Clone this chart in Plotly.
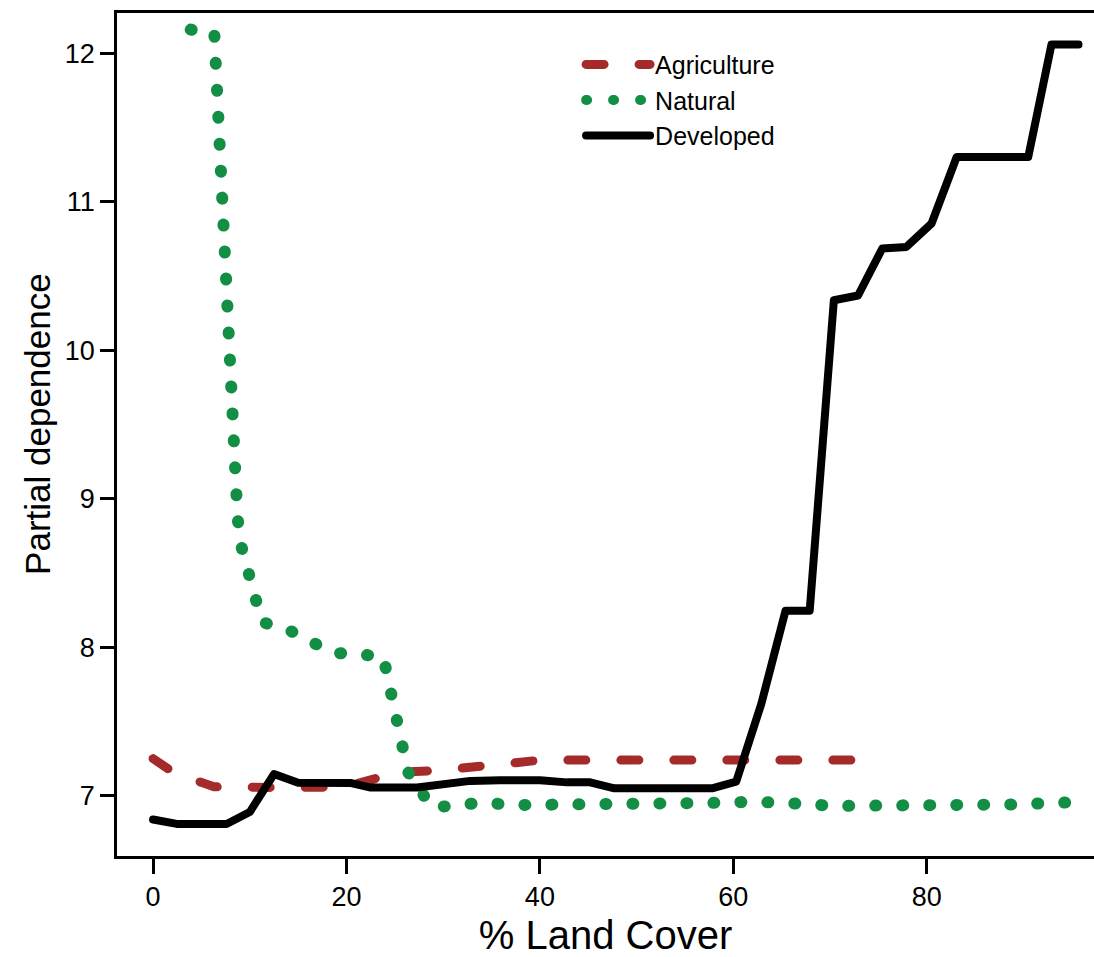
import plotly.graph_objects as go

# ---- data ----
developed_x = [0, 2.45, 7.6, 10.0, 12.5, 15.0, 20.5, 22.4, 27.3, 30.0, 32.8, 35.9, 40.0,
               42.8, 45.2, 47.7, 57.8, 60.3, 62.9, 65.4, 67.9, 70.4, 72.9, 75.4, 77.9,
               80.5, 83.1, 90.5, 92.9, 95.7]
developed_y = [6.84, 6.81, 6.81, 6.89, 7.146, 7.088, 7.085, 7.056, 7.056, 7.075, 7.10,
               7.105, 7.105, 7.09, 7.09, 7.05, 7.05, 7.095, 7.62, 8.246, 8.246, 10.338,
               10.37, 10.686, 10.697, 10.855, 11.303, 11.303, 12.06, 12.06]

agri_x = [0, 2.5, 5.0, 6.3, 12.4, 18.0, 21.0, 23.5, 25.5, 29.0, 32.0, 34.5, 37.5, 40.0,
          47.0, 52.0, 56.0, 73.5]
agri_y = [7.25, 7.14, 7.09, 7.06, 7.056, 7.058, 7.08, 7.125, 7.16, 7.168, 7.184, 7.195,
          7.222, 7.24, 7.245, 7.245, 7.24, 7.24]

natural_x = [3.89, 6.33, 8.73, 9.09, 11.26, 13.64, 16.0, 18.4, 21.1, 23.8, 26.36, 28.84,
             31.56, 34.2, 36.98, 48.1, 50.9, 53.7, 56.5, 59.2, 62.0, 64.8, 67.6, 70.3,
             73.1, 75.9, 78.7, 81.5, 84.3, 87.1, 89.8, 92.6, 95.4]
natural_y = [12.161, 12.141, 8.877, 8.69, 8.169, 8.129, 8.052, 7.964, 7.954, 7.937, 7.16,
             6.92, 6.937, 6.955, 6.937, 6.937, 6.942, 6.942, 6.949, 6.953, 6.96, 6.96,
             6.944, 6.931, 6.931, 6.927, 6.927, 6.927, 6.927, 6.934, 6.942, 6.951, 6.956]

x_ticks = [0, 20, 40, 60, 80]
y_ticks = [7, 8, 9, 10, 11, 12]

FONT = "Liberation Sans, Arial, Helvetica, sans-serif"

fig = go.Figure()
fig.add_trace(go.Scatter(x=agri_x, y=agri_y, mode="lines", name="Agriculture",
                         line=dict(color="#A52A2A", width=9, dash="18px,35px")))
fig.add_trace(go.Scatter(x=natural_x, y=natural_y, mode="lines", name="Natural",
                         line=dict(color="#128F45", width=12, dash="1px,26px")))
fig.add_trace(go.Scatter(x=developed_x, y=developed_y, mode="lines", name="Developed",
                         line=dict(color="#000000", width=8)))

fig.update_layout(
    width=1094, height=957,
    margin=dict(l=117, r=0, t=13, b=101, pad=0),
    paper_bgcolor="white", plot_bgcolor="white",
    font=dict(family=FONT, color="black"),
    showlegend=True,
    legend=dict(x=0.475, y=0.966, xanchor="left", yanchor="top",
                font=dict(size=25, family=FONT, color="black"),
                bgcolor="rgba(0,0,0,0)", itemwidth=64, tracegroupgap=0),
    xaxis=dict(range=[-3.73, 97.3], tickvals=x_ticks, ticktext=[str(v) for v in x_ticks],
               showgrid=False, zeroline=False, showline=True, mirror=True,
               linecolor="black", linewidth=2.5, ticks="outside", ticklen=15,
               tickwidth=2.5, tickcolor="black", tickfont=dict(size=27, family=FONT),
               title=dict(text="% Land Cover", font=dict(size=40, family=FONT), standoff=13)),
    yaxis=dict(range=[6.594, 12.273], tickvals=y_ticks, ticktext=[str(v) for v in y_ticks],
               showgrid=False, zeroline=False, showline=True, mirror=False,
               linecolor="black", linewidth=2.5, ticks="outside", ticklen=14,
               tickwidth=2.5, tickcolor="black", tickfont=dict(size=27, family=FONT)),
    annotations=[dict(text="Partial dependence", textangle=-90, showarrow=False,
                      xref="paper", yref="paper", x=-0.0809, y=0.5125,
                      xanchor="center", yanchor="middle",
                      font=dict(size=35, family=FONT, color="black"))],
)

post = """
document.body.style.margin = '0';
document.body.style.padding = '0';
var s = document.createElement('style');
s.innerHTML = 'path.js-line {stroke-linecap: round !important; stroke-linejoin: round !important;}';
document.head.appendChild(s);
"""
fig.write_html("out.html", post_script=post, config={"displayModeBar": False})
